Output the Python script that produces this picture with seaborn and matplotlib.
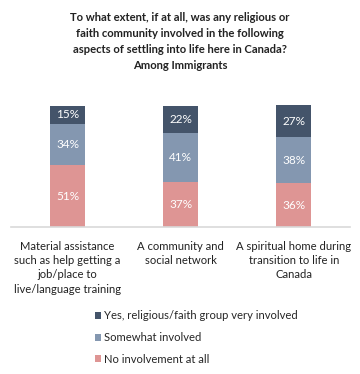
import matplotlib
matplotlib.use("Agg")
import matplotlib.pyplot as plt
import seaborn as sns
import pandas as pd
import numpy as np
from matplotlib.patches import Patch

categories = ["Material assistance\nsuch as help getting a\njob/place to\nlive/language training",
              "A community and\nsocial network",
              "A spiritual home during\ntransition to life in\nCanada"]
series_names = ["Yes, religious/faith group very involved",
                "Somewhat involved",
                "No involvement at all"]
very = [15, 22, 27]
somewhat = [34, 41, 38]
none_ = [51, 37, 36]
colors = ["#44546A", "#8497B0", "#DE9594"]
title = ("To what extent, if at all, was any religious or\nfaith community involved in the following\n"
         "aspects of settling into life here in Canada?\nAmong Immigrants")

sns.set_theme(style="white")
plt.rcParams['font.family'] = ['Lato', 'DejaVu Sans']

df = pd.DataFrame({"cat": categories, "very": very, "somewhat": somewhat, "none": none_})
df["c1"] = df["none"]
df["c2"] = df["none"] + df["somewhat"]
df["c3"] = df["c2"] + df["very"]

fig = plt.figure(figsize=(3.6, 3.74), dpi=100)
ax = fig.add_axes([0.031, 0.393, 0.942, 0.34])

for col, c in zip(["c3", "c2", "c1"], colors):
    sns.barplot(data=df, x="cat", y=col, color=c, width=0.31, ax=ax,
                saturation=1, edgecolor="none", order=categories)

for i in range(len(categories)):
    segs = [(0, none_[i]), (none_[i], somewhat[i]), (none_[i] + somewhat[i], very[i])]
    for b, h in segs:
        ax.text(i, b + h / 2, f"{h}%", ha="center", va="center", color="white", fontsize=8.5)

ax.set_xlim(-0.5, 2.5)
ax.set_ylim(0, 105)
ax.set_xlabel("")
ax.set_ylabel("")
ax.set_yticks([])
for s in ["top", "right", "left"]:
    ax.spines[s].set_visible(False)
ax.spines["bottom"].set_color("#D9D9D9")
ax.spines["bottom"].set_linewidth(1.2)
ax.tick_params(axis="x", length=0, pad=10, labelsize=8.1, colors="#222222")
for lab in ax.get_xticklabels():
    lab.set_linespacing(1.36)
    lab.set_verticalalignment("top")

fig.text(0.5, 0.968, title, ha="center", va="top", fontsize=8.1, fontweight="bold",
         linespacing=1.55, color="#222222")

handles = [Patch(facecolor=c, edgecolor="none") for c in colors]
fig.legend(handles, series_names, loc="upper left", bbox_to_anchor=(0.25, 0.182),
           frameon=False, fontsize=8.1, handlelength=0.6, handleheight=0.6,
           handletextpad=0.2, labelspacing=0.95, borderaxespad=0)
fig.savefig("out.png", dpi=100)
